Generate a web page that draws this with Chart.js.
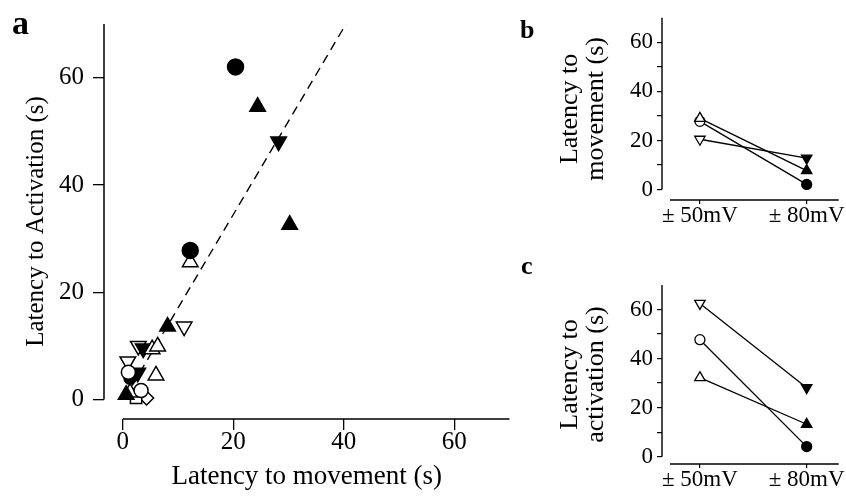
<!DOCTYPE html>
<html>
<head>
<meta charset="utf-8">
<script src="https://cdn.jsdelivr.net/npm/chart.js@4/dist/chart.umd.min.js"></script>
<style>
  html, body { margin: 0; padding: 0; background: #fff; }
  #wrap { position: relative; width: 846px; height: 498px; overflow: hidden; }
  canvas { position: absolute; }
  .panel { position: absolute; font-family: "Liberation Serif", "DejaVu Serif", serif; font-weight: bold; color: #000; }
</style>
</head>
<body>
<div id="wrap">
  <canvas id="chart-a" width="520" height="498" style="left:0;top:0"></canvas>
  <canvas id="chart-b" width="326" height="245" style="left:520px;top:0"></canvas>
  <canvas id="chart-c" width="326" height="248" style="left:520px;top:250px"></canvas>
  <div class="panel" style="left:12px;top:6px;font-size:34px;line-height:34px">a</div>
  <div class="panel" style="left:520px;top:17px;font-size:26px;line-height:26px">b</div>
  <div class="panel" style="left:521px;top:253px;font-size:26px;line-height:26px">c</div>
</div>
<script>
// ---- panel a: latency to movement (x) vs latency to activation (y), one pair per marker group
const filledCircleX = [20.4, 12.2, 1.3];
const filledCircleY = [62, 27.8, 4.0];
const openCircleX = [1.0, 3.3];
const openCircleY = [5.1, 1.7];
const filledUpX = [24.4, 30.2, 8.1, 0.6];
const filledUpY = [54.6, 32.6, 13.6, 0.9];
const openUpX = [12.2, 5.3, 6.3, 6.0, 1.3];
const openUpY = [25.6, 9.4, 9.9, 4.5, 1.3];
const filledDownX = [28.2, 3.7, 2.7];
const filledDownY = [48.1, 9.5, 5.0];
const openDownX = [11.1, 2.8, 0.9];
const openDownY = [13.6, 10.0, 7.1];
const openSquareX = [2.4];
const openSquareY = [0.3];
const openDiamondX = [4.3];
const openDiamondY = [0.3];
const fitX = [0.3, 40.4];
const fitY = [0.2, 70];
const ticksA = [0, 20, 40, 60];

// ---- panels b and c: ±50mV vs ±80mV
const conditions = ['\u00B1 50mV', '\u00B1 80mV'];
const moveUp = [29.0, 7.7];
const moveCircle = [27.8, 2.1];
const moveDown = [20.5, 12.8];
const actDown = [62.5, 28.1];
const actCircle = [47.7, 4.1];
const actUp = [32.2, 13.2];
const ticksBC = [0, 10, 20, 30, 40, 50, 60];
const labeledBC = [0, 20, 40, 60];

const SERIF = '"Liberation Serif", "DejaVu Serif", serif';
Chart.defaults.font.family = SERIF;
Chart.defaults.color = '#000';

const pts = (xs, ys) => xs.map((x, i) => ({ x: x, y: ys[i] }));

// axis lines drawn only over the span the original shows (detached axes)
const axisLines = {
  id: 'axisLines',
  beforeDatasetsDraw(chart, args, opts) {
    const { ctx, chartArea, scales: { x, y } } = chart;
    ctx.save();
    ctx.strokeStyle = '#000';
    ctx.lineWidth = opts.width;
    ctx.beginPath();
    ctx.moveTo(chartArea.left, y.getPixelForValue(opts.y[0]));
    ctx.lineTo(chartArea.left, y.getPixelForValue(opts.y[1]));
    ctx.moveTo(x.getPixelForValue(opts.x[0]), chartArea.bottom);
    ctx.lineTo(x.getPixelForValue(opts.x[1]), chartArea.bottom);
    ctx.stroke();
    ctx.restore();
  }
};

function marker(data, style, filled, radius, rotation) {
  return {
    data: data,
    pointStyle: style,
    pointRotation: rotation || 0,
    pointRadius: radius,
    pointBackgroundColor: filled ? '#000' : '#fff',
    pointBorderColor: '#000',
    pointBorderWidth: 1.5,
    showLine: false
  };
}

// ============ panel a ============
new Chart(document.getElementById('chart-a'), {
  type: 'scatter',
  data: {
    datasets: [
      marker(pts(openCircleX, openCircleY), 'circle', false, 7),
      marker(pts(filledCircleX, filledCircleY), 'circle', true, [8, 8, 6]),
      marker(pts(filledUpX, filledUpY), 'triangle', true, 9),
      marker(pts(openUpX, openUpY), 'triangle', false, 9),
      marker(pts(filledDownX, filledDownY), 'triangle', true, 9, 180),
      marker(pts(openDownX, openDownY), 'triangle', false, 9, 180),
      marker(pts(openSquareX, openSquareY), 'rect', false, 8),
      marker(pts(openDiamondX, openDiamondY), 'rectRot', false, 7),
      {
        type: 'line',
        data: pts(fitX, fitY),
        borderColor: '#000',
        borderWidth: 1.4,
        borderDash: [9, 6],
        pointRadius: 0,
        fill: false,
        order: 10
      }
    ]
  },
  options: {
    responsive: false,
    animation: false,
    layout: { padding: { left: 8, top: 12, right: 7, bottom: 4 } },
    plugins: {
      legend: { display: false },
      tooltip: { enabled: false },
      axisLines: { x: [0, 70], y: [0, 70], width: 1.5 }
    },
    scales: {
      x: {
        type: 'linear', min: -3.41, max: 70,
        afterBuildTicks: s => { s.ticks = ticksA.map(v => ({ value: v })); },
        afterFit: s => { s.height = 75; },
        border: { display: false },
        grid: { drawOnChartArea: false, drawTicks: true, tickLength: 11, color: '#000', lineWidth: 1.3 },
        ticks: { padding: 0, font: { size: 25, lineHeight: 1 }, autoSkip: false, maxRotation: 0 },
        title: { display: true, text: 'Latency to movement (s)', font: { size: 27, lineHeight: 1.1 }, padding: { top: 0, bottom: 2 } }
      },
      y: {
        type: 'linear', min: -3.62, max: 70,
        afterBuildTicks: s => { s.ticks = ticksA.map(v => ({ value: v })); },
        afterFit: s => { s.width = 96; },
        border: { display: false },
        grid: { drawOnChartArea: false, drawTicks: true, tickLength: 11, color: '#000', lineWidth: 1.3 },
        ticks: { padding: 9, font: { size: 25 }, autoSkip: false },
        title: { display: true, text: 'Latency to Activation (s)', font: { size: 25 }, padding: { top: 13, bottom: 0 } }
      }
    }
  },
  plugins: [axisLines]
});

// ============ panels b, c ============
function pairSeries(values, style, radius, rotation) {
  return {
    data: values.map((v, i) => ({ x: i, y: v })),
    showLine: true,
    borderColor: '#000',
    borderWidth: 1.3,
    pointStyle: style,
    pointRotation: rotation || 0,
    pointRadius: radius,
    pointBackgroundColor: ['#fff', '#000'],
    pointBorderColor: '#000',
    pointBorderWidth: 1.3
  };
}

function smallPanel(id, series, yMin, title, areaTop, areaBottomGap) {
  return new Chart(document.getElementById(id), {
    type: 'scatter',
    data: { datasets: series },
    options: {
      responsive: false,
      animation: false,
      layout: { padding: { left: 10, top: areaTop, right: 6, bottom: 0 } },
      plugins: {
        legend: { display: false },
        tooltip: { enabled: false },
        axisLines: { x: [-0.28, 1.3], y: [0, 70], width: 1.4 }
      },
      scales: {
        x: {
          type: 'linear', min: -0.355, max: 1.3,
          afterBuildTicks: s => { s.ticks = conditions.map((c, i) => ({ value: i })); },
          afterFit: s => { s.height = areaBottomGap; },
          border: { display: false },
          grid: { drawOnChartArea: false, drawTicks: true, tickLength: 4, color: '#000', lineWidth: 1.2 },
          ticks: { padding: 0, font: { size: 23, lineHeight: 1 }, autoSkip: false, maxRotation: 0,
                   callback: v => conditions[v] }
        },
        y: {
          type: 'linear', min: yMin, max: 70,
          afterBuildTicks: s => { s.ticks = ticksBC.map(v => ({ value: v })); },
          afterFit: s => { s.width = 132; },
          border: { display: false },
          grid: { drawOnChartArea: false, drawTicks: true, tickLength: 5, color: '#000', lineWidth: 1.2 },
          ticks: { padding: 4, font: { size: 23 }, autoSkip: false,
                   callback: v => labeledBC.includes(v) ? String(v) : '' },
          title: { display: true, text: title, font: { size: 26, lineHeight: 1.0 }, padding: { top: 27, bottom: 0 } }
        }
      }
    },
    plugins: [axisLines]
  });
}

smallPanel('chart-b', [
  pairSeries(moveUp, 'triangle', 6),
  pairSeries(moveCircle, 'circle', 5),
  pairSeries(moveDown, 'triangle', 6, 180)
], -4.26, ['Latency to', 'movement (s)'], 17, 45);

smallPanel('chart-c', [
  pairSeries(actDown, 'triangle', 6, 180),
  pairSeries(actCircle, 'circle', 5),
  pairSeries(actUp, 'triangle', 6)
], -3.0, ['Latency to', 'activation (s)'], 35, 34);
</script>
</body>
</html>
